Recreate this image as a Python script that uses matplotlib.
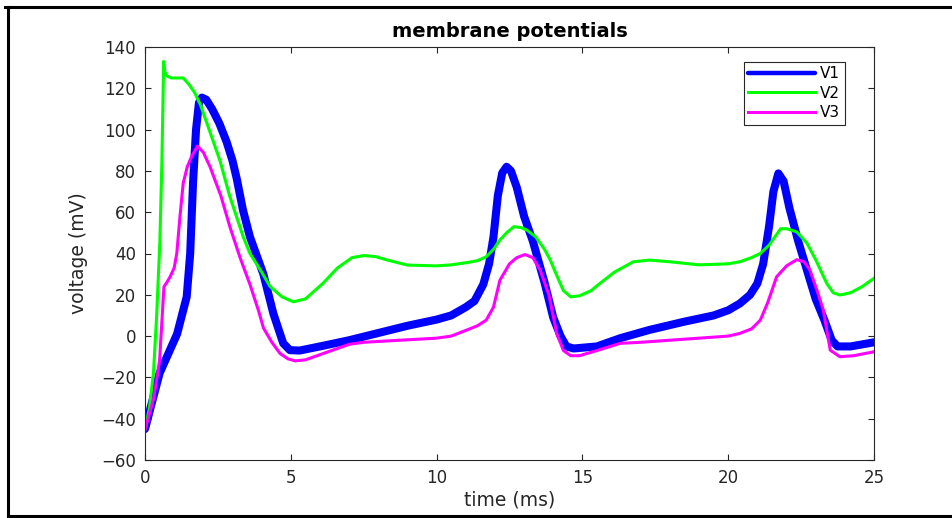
import numpy as np
import matplotlib
matplotlib.use("Agg")
import matplotlib.pyplot as plt
from matplotlib.lines import Line2D

# values (time in ms, voltage in mV)
t1 = [0, 0.5, 1.1, 1.43, 1.55, 1.65, 1.75, 1.85, 1.95, 2.1, 2.3, 2.55, 2.8, 3.0, 3.15, 3.36, 3.6, 4.06,
      4.4, 4.74, 4.97, 5.3, 6, 7, 8, 9, 10, 10.5, 11, 11.3, 11.6, 11.8, 11.95, 12.1, 12.25,
      12.4, 12.55, 12.75, 13.0, 13.3, 13.7, 14.0, 14.25, 14.45, 14.7, 15.5, 16.3, 17.3, 18.5,
      19.5, 20.0, 20.4, 20.75, 21.0, 21.2, 21.4, 21.55, 21.72, 21.9, 22.1, 22.4, 22.7, 23.0,
      23.3, 23.55, 23.75, 24.2, 25]
v1 = [-45, -18, 1, 19, 40, 75, 100, 113, 115.5, 114.5, 110, 103, 94, 85, 76, 61, 48, 30,
      11, -3.5, -6.8, -7, -5, -2, 1.5, 5, 8, 10, 14, 17, 25, 35, 48, 68, 79,
      82, 80, 72, 58, 46, 26, 9, 0, -5, -6, -5, -1, 3, 7,
      10, 12.5, 15.8, 20, 25.5, 35, 53, 70, 78.8, 75, 62, 46, 32, 18,
      7.7, -2, -5, -5, -3]

t2 = [0, 0.15, 0.29, 0.4, 0.51, 0.58, 0.64, 0.68, 0.75, 0.9, 1.1, 1.31, 1.5, 1.7, 1.9, 2.2,
      2.57, 2.9, 3.37, 3.6, 4.0, 4.29, 4.7, 5.09, 5.5, 6.1, 6.6, 7.1, 7.5, 7.9, 8.4, 9, 10,
      10.5, 11, 11.4, 11.7, 11.95, 12.17, 12.4, 12.65, 12.9, 13.1, 13.4, 13.7, 13.9, 14.1,
      14.35, 14.6, 14.9, 15.3, 15.6, 16.1, 16.75, 17.3, 18, 19, 20, 20.4, 20.8, 21.1, 21.4,
      21.6, 21.8, 22.0, 22.35, 22.7, 23.0, 23.38, 23.6, 23.83, 24.2, 24.6, 25]
v2 = [-45, -35, -18, 10, 46, 85, 133, 128, 126, 125, 125, 125, 122, 118, 112, 100,
      85, 68, 48, 40, 31, 24, 19, 16.6, 18, 25.5, 33, 38, 39, 38.5, 36.5, 34.4, 34,
      34.5, 35.5, 36.5, 38.4, 42, 46.5, 50, 53, 52.5, 51.3, 48, 42, 36.8, 30,
      22, 19, 19.5, 22, 25.5, 31, 36, 36.8, 36, 34.5, 35, 36, 38, 40, 44,
      48, 52, 52, 50.5, 45, 37, 25.5, 21, 19.9, 21, 24, 28]

t3 = [0, 0.3, 0.5, 0.65, 0.75, 0.86, 1.0, 1.09, 1.2, 1.31, 1.45, 1.6, 1.8, 2.0, 2.23, 2.6,
      2.91, 3.26, 3.6, 3.9, 4.06, 4.35, 4.63, 4.9, 5.15, 5.5, 6.2, 7, 7.5, 8.74, 10, 10.5,
      11.03, 11.4, 11.7, 11.95, 12.17, 12.5, 12.75, 13.03, 13.3, 13.55, 13.85, 14.12, 14.35,
      14.6, 14.9, 15.5, 16.3, 17, 18, 19, 20, 20.4, 20.8, 21.1, 21.35, 21.66, 22.0, 22.35,
      22.6, 22.8, 23.05, 23.26, 23.5, 23.83, 24.3, 25]
v3 = [-45.5, -30, -12, 23.9, 26, 28.7, 33, 40, 58, 74, 82, 87, 92, 89, 82, 68,
      53, 38, 25, 12, 4, -3, -8.4, -11, -12, -11.5, -8, -4, -3, -2, -1, 0,
      2.9, 5, 7.7, 14, 27, 35, 38, 39.5, 38, 32, 20, 1.3, -7,
      -9.5, -9.5, -7, -3.5, -3, -2, -1, 0, 1.3, 3.5, 7.7, 16, 28.7, 34, 37,
      36, 32, 22, 12.6, -6.8, -10, -9.5, -7.6]

labels = ["V1", "V2", "V3"]
colors = ["#0000ff", "#00ff00", "#ff00ff"]
xticks = [0, 5, 10, 15, 20, 25]
yticks = [-60, -40, -20, 0, 20, 40, 60, 80, 100, 120, 140]

plt.rcParams["font.family"] = ["DejaVu Sans"]

fig = plt.figure(figsize=(9.52, 5.18), dpi=100)
ax = fig.add_axes([145 / 952, 1 - 460 / 518, 729 / 952, 413 / 518])

ax.plot(t1, v1, color=colors[0], lw=5.8, label=labels[0], solid_capstyle="round", solid_joinstyle="round")
ax.plot(t2, v2, color=colors[1], lw=2.2, label=labels[1], solid_joinstyle="round")
ax.plot(t3, v3, color=colors[2], lw=2.2, label=labels[2], solid_joinstyle="round")

ax.set_xlim(0, 25)
ax.set_ylim(-60, 140)
ax.set_xticks(xticks)
ax.set_yticks(yticks)
ax.tick_params(direction="in", top=True, right=True, length=4, width=0.8,
               labelsize=12, colors="#262626", pad=6.5)
for s in ax.spines.values():
    s.set_color("#262626")
    s.set_linewidth(0.8)

ax.set_title("membrane potentials", fontsize=14, fontweight="bold", pad=7)
ax.set_xlabel("time (ms)", fontsize=13.5, color="#262626")
ax.set_ylabel("voltage (mV)", fontsize=13.5, color="#262626")
ax.xaxis.set_label_coords(0.5, -0.075)
ax.yaxis.set_label_coords(-0.078, 0.5)

leg = ax.legend(loc="upper right", bbox_to_anchor=(0.96, 0.964), borderaxespad=0,
                fancybox=False, framealpha=1, edgecolor="#262626", fontsize=11,
                handlelength=4.35, handletextpad=0.35, labelspacing=0.28, borderpad=0.3)
leg.get_frame().set_linewidth(0.8)
leg.get_lines()[0].set_linewidth(3.2)

# outer frame of the screenshot
fig.add_artist(Line2D([5 / 952, 1], [1 - 7 / 518, 1 - 7 / 518], transform=fig.transFigure, color="k", lw=2.2))
fig.add_artist(Line2D([8 / 952, 8 / 952], [1 - 7 / 518, 1 - 516 / 518], transform=fig.transFigure, color="k", lw=2.2))
fig.add_artist(Line2D([8 / 952, 1], [1 - 516 / 518, 1 - 516 / 518], transform=fig.transFigure, color="k", lw=2.2))

fig.savefig("out.png", dpi=100)
